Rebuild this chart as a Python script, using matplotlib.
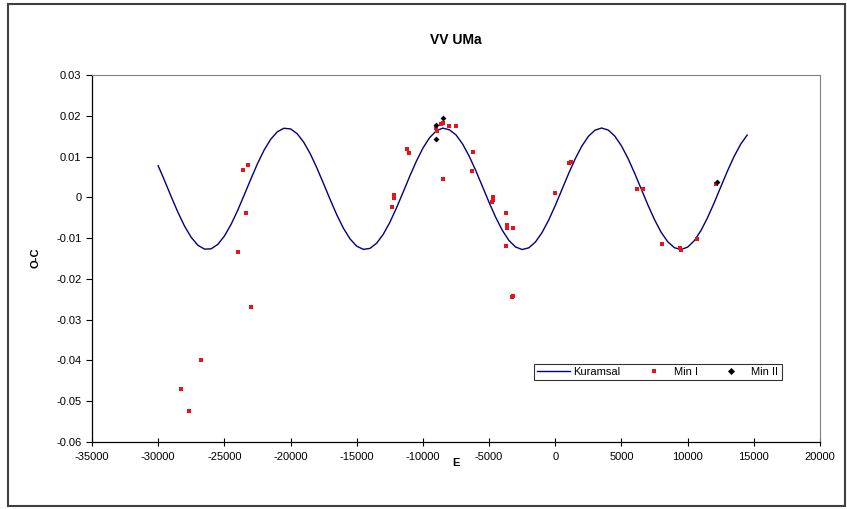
import matplotlib
matplotlib.use("Agg")
import matplotlib.pyplot as plt
from matplotlib.patches import Rectangle

plt.rcParams['font.family'] = ['Liberation Sans', 'DejaVu Sans']
plt.rcParams['axes.unicode_minus'] = False

# theoretical curve (Kuramsal), every 500 cycles
curve_e = list(range(-30000, 14501, 500))
curve_oc = [0.00775, 0.00396, 0.00004, -0.00373, -0.00711, -0.00984, -0.01175, -0.01270,
            -0.01263, -0.01155, -0.00951, -0.00668, -0.00324, 0.00057, 0.00448, 0.00823,
            0.01157, 0.01423, 0.01607, 0.01694, 0.01678, 0.01561, 0.01350, 0.01061,
            0.00713, 0.00331, -0.00060, -0.00433, -0.00761, -0.01022, -0.01198, -0.01276,
            -0.01252, -0.01127, -0.00909, -0.00614, -0.00262, 0.00122, 0.00513, 0.00882,
            0.01206, 0.01461, 0.01628, 0.01698, 0.01656, 0.01532, 0.01307, 0.01007,
            0.00651, 0.00265, -0.00125, -0.00491, -0.00810, -0.01058, -0.01218, -0.01280,
            -0.01238, -0.01096, -0.00865, -0.00559, -0.00200, 0.00188, 0.00577, 0.00940,
            0.01253, 0.01495, 0.01647, 0.01700, 0.01650, 0.01501, 0.01262, 0.00951,
            0.00588, 0.00200, -0.00188, -0.00549, -0.00857, -0.01091, -0.01235, -0.01280,
            -0.01221, -0.01064, -0.00819, -0.00502, -0.00137, 0.00253, 0.00640, 0.00996,
            0.01300, 0.01527]

# primary minima (Min I)
min1_e = [-28255, -27673, -26745, -24000, -23600, -23390, -23200, -23014,
          -12318, -12190, -12190, -11186, -11057,
          -9017, -8967, -8665, -8514, -8466, -8011, -7508,
          -6276, -6200, -4790, -4736, -4690, -3687, -3645, -3645, -3687, -3300, -3192, -3192,
          0, 1000, 1200, 6186, 6639, 8029, 9400, 9500, 10672, 12150]
min1_oc = [-0.0469, -0.0523, -0.0399, -0.0135, 0.0066, -0.0039, 0.0080, -0.0269,
           -0.0023, 0.0006, -0.0002, 0.0118, 0.0108,
           0.0169, 0.0162, 0.0180, 0.0183, 0.0046, 0.0176, 0.0176,
           0.0065, 0.0111, -0.0012, -0.0007, 0.0001, -0.0039, -0.0068, -0.0074, -0.0119, -0.0245, -0.0076, -0.0242,
           0.0010, 0.0083, 0.0087, 0.0020, 0.0020, -0.0114, -0.0124, -0.0129, -0.0101, 0.0033]

# secondary minima (Min II)
min2_e = [-9017, -9017, -8466, 12183]
min2_oc = [0.0177, 0.0144, 0.0195, 0.0038]

fig = plt.figure(figsize=(8.47, 5.09), dpi=100)
ax = fig.add_axes([92 / 847, 1 - 442 / 509, 728 / 847, 367 / 509])

ax.plot(curve_e, curve_oc, color='#000080', lw=1.0, label='Kuramsal')
ax.plot(min1_e, min1_oc, 's', color='#e8141c', ms=3, mew=0, label='Min I')
ax.plot(min2_e, min2_oc, 'D', color='black', ms=3, mew=0, label='Min II')

ax.set_xlim(-35000, 20000)
ax.set_ylim(-0.06, 0.03)
ax.set_xticks(range(-35000, 20001, 5000))
ax.set_yticks([-0.06, -0.05, -0.04, -0.03, -0.02, -0.01, 0, 0.01, 0.02, 0.03])
ax.set_yticklabels(['-0.06', '-0.05', '-0.04', '-0.03', '-0.02', '-0.01', '0', '0.01', '0.02', '0.03'])
ax.tick_params(axis='x', direction='inout', length=6, labelsize=8, pad=4)
ax.tick_params(axis='y', direction='out', length=4, labelsize=8)

for side in ['top', 'right']:
    ax.spines[side].set_color('#808080')
    ax.spines[side].set_linewidth(0.8)
for side in ['left', 'bottom']:
    ax.spines[side].set_color('black')
    ax.spines[side].set_linewidth(0.9)

fig.text(456 / 847, 1 - 40 / 509, 'VV UMa', ha='center', va='center',
         fontsize=10, fontweight='bold')
fig.text(456 / 847, 1 - 463 / 509, 'E', ha='center', va='center',
         fontsize=8, fontweight='bold')
fig.text(35 / 847, 1 - 258 / 509, 'O-C', ha='center', va='center',
         fontsize=8, fontweight='bold', rotation=90)

leg = ax.legend(loc='upper left', bbox_to_anchor=((528 - 92) / 728, (442 - 358) / 367),
                ncol=3, fontsize=8, frameon=True, fancybox=False, borderpad=0.3,
                handlelength=3, columnspacing=1.5, handletextpad=0.3, markerscale=1.2)
leg.get_frame().set_edgecolor('black')
leg.get_frame().set_linewidth(0.8)

# outer chart border
fig.patches.append(Rectangle((8 / 847, 3 / 509), 837 / 847, 502 / 509,
                             transform=fig.transFigure, fill=False,
                             edgecolor='#404040', lw=1.5))

fig.savefig('out.png', dpi=100)
